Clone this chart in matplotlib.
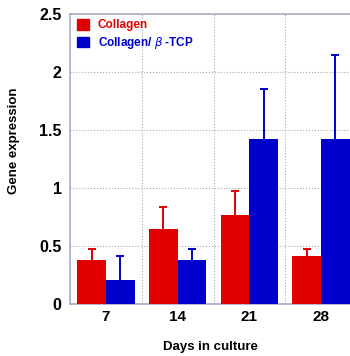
import matplotlib
matplotlib.use("Agg")
import matplotlib.pyplot as plt
import numpy as np
from matplotlib.patches import Patch

plt.rcParams['font.family'] = ['Liberation Sans', 'DejaVu Sans']

days = ["7", "14", "21", "28"]
collagen = [0.38, 0.65, 0.77, 0.41]
collagen_err = [0.09, 0.19, 0.20, 0.06]
tcp = [0.21, 0.38, 1.42, 1.42]
tcp_err = [0.20, 0.09, 0.43, 0.73]
yticks = [0, 0.5, 1, 1.5, 2, 2.5]
ytick_labels = ["0", "0.5", "1", "1.5", "2", "2.5"]

red = "#e00000"
blue = "#0000cc"

fig = plt.figure(figsize=(3.5, 3.56), dpi=100)
ax = fig.add_axes([70/350, 1-304/356, 287/350, 290/356])

x = np.arange(1, len(days) + 1)
w = 0.4
ax.bar(x - w/2, collagen, w, color=red, zorder=3)
ax.bar(x + w/2, tcp, w, color=blue, zorder=3)
for xs, vals, errs, col in [(x - w/2, collagen, collagen_err, red),
                            (x + w/2, tcp, tcp_err, blue)]:
    _, caps, _ = ax.errorbar(xs, vals, yerr=[np.zeros(len(vals)), errs], fmt='none',
                             ecolor=col, elinewidth=1.4, capsize=3, capthick=1.4, zorder=4)
    caps[0].set_visible(False)

ax.set_xlim(0.5, 4.5)
ax.set_ylim(0, 2.5)
ax.set_xticks(x)
ax.set_xticklabels(days, fontsize=11, fontweight='bold')
ax.set_yticks(yticks)
ax.set_yticklabels(ytick_labels, fontsize=11.5, fontweight='bold')
ax.set_xticks([1.5, 2.5, 3.5], minor=True)
ax.tick_params(axis='x', which='both', length=0, pad=4)
ax.tick_params(axis='y', which='both', length=0, pad=6)
ax.grid(True, axis='y', which='major', linestyle=':', color='#aaaaaa', linewidth=0.8, zorder=0)
ax.grid(True, axis='x', which='minor', linestyle=':', color='#aaaaaa', linewidth=0.8, zorder=0)
for s in ax.spines.values():
    s.set_color('#aaaacc')
    s.set_linewidth(1.2)

fig.text(14/350, 1-141/356, "Gene expression", rotation=90, ha='center', va='center',
         fontsize=9.5, fontweight='bold')
fig.text(210/350, 1-347/356, "Days in culture", ha='center', va='center',
         fontsize=9.5, fontweight='bold')

handles = [Patch(color=red), Patch(color=blue)]
leg = ax.legend(handles, ["Collagen", "Collagen/ $\\beta$ -TCP"], loc='upper left',
                bbox_to_anchor=(7/287, 1-5/290), frameon=False,
                handlelength=1.0, handleheight=1.0, handletextpad=0.75,
                labelspacing=0.3, borderaxespad=0, borderpad=0, fontsize=8.5)
for t, c in zip(leg.get_texts(), [red, blue]):
    t.set_color(c)
    t.set_fontweight('bold')

fig.savefig("out.png", dpi=100)
